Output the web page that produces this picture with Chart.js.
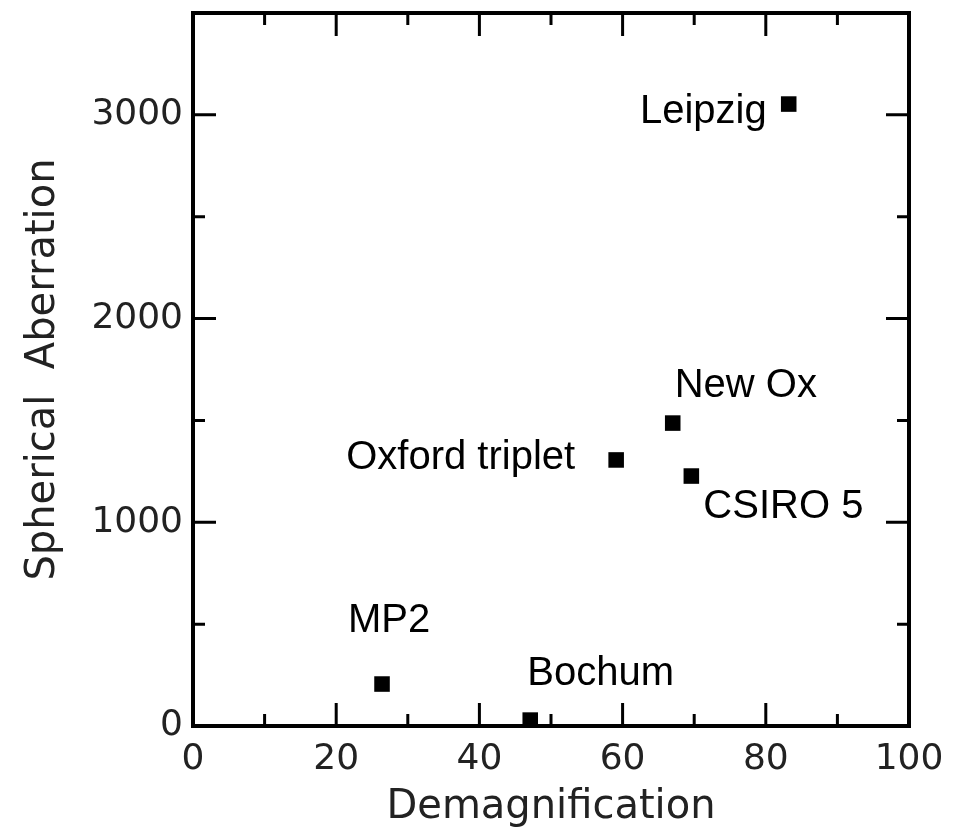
<!DOCTYPE html>
<html>
<head>
<meta charset="utf-8">
<script src="https://cdn.jsdelivr.net/npm/chart.js@4/dist/chart.umd.min.js"></script>
<style>
  html, body { margin: 0; padding: 0; background: #fff; }
  #wrap { width: 959px; height: 840px; }
</style>
</head>
<body>
<div id="wrap"><canvas id="c" width="959" height="840"></canvas></div>
<script>
// ====== data ======
const names = ["Leipzig", "New Ox", "Oxford triplet", "CSIRO 5", "MP2", "Bochum"];
const demag = [83.2, 67.0, 59.1, 69.6, 26.4, 47.1];
const sphAb = [3053, 1487, 1306, 1227, 206, 29];
const xTickLabels = [0, 20, 40, 60, 80, 100];
const yTickLabels = [0, 1000, 2000, 3000];

// label placement next to each point (px from the marker centre)
const labelPlace = {
  "Leipzig":        { dx: -22, dy: 19,  align: "right" },
  "New Ox":         { dx: 2,   dy: -26, align: "left" },
  "Oxford triplet": { dx: -41, dy: 9,   align: "right" },
  "CSIRO 5":        { dx: 12,  dy: 42,  align: "left" },
  "MP2":            { dx: 7,   dy: -52, align: "center" },
  "Bochum":         { dx: -3,  dy: -35, align: "left" }
};

const points = demag.map((x, i) => ({ x, y: sphAb[i] }));
const axisFont = "'DejaVu Sans', sans-serif";
const ink = '#222';

// frame + inward ticks on all four sides
const framePlugin = {
  id: 'frame',
  afterDatasetsDraw(chart) {
    const { ctx, chartArea: a, scales } = chart;
    ctx.save();
    ctx.strokeStyle = '#000';
    ctx.lineCap = 'butt';
    ctx.lineWidth = 3;
    scales.x.ticks.forEach(t => {
      const px = scales.x.getPixelForValue(t.value);
      const len = t.value % 20 === 0 ? 23 : 12;
      ctx.beginPath();
      ctx.moveTo(px, a.bottom); ctx.lineTo(px, a.bottom - len);
      ctx.moveTo(px, a.top); ctx.lineTo(px, a.top + len);
      ctx.stroke();
    });
    scales.y.ticks.forEach(t => {
      const py = scales.y.getPixelForValue(t.value);
      const len = t.value % 1000 === 0 ? 23 : 12;
      ctx.beginPath();
      ctx.moveTo(a.left, py); ctx.lineTo(a.left + len, py);
      ctx.moveTo(a.right, py); ctx.lineTo(a.right - len, py);
      ctx.stroke();
    });
    ctx.lineWidth = 4;
    ctx.lineJoin = 'miter';
    ctx.strokeRect(a.left, a.top, a.right - a.left, a.bottom - a.top);
    ctx.restore();
  }
};

// names beside the markers
const namePlugin = {
  id: 'names',
  afterDatasetsDraw(chart) {
    const { ctx, scales } = chart;
    ctx.save();
    ctx.fillStyle = '#000';
    ctx.font = "40px 'Liberation Sans', Arial, sans-serif";
    ctx.textBaseline = 'alphabetic';
    names.forEach((n, i) => {
      const p = labelPlace[n];
      const px = scales.x.getPixelForValue(demag[i]);
      const py = scales.y.getPixelForValue(sphAb[i]);
      ctx.textAlign = p.align;
      ctx.fillText(n, px + p.dx, py + p.dy);
    });
    ctx.restore();
  }
};

new Chart(document.getElementById('c'), {
  type: 'scatter',
  data: {
    datasets: [{
      data: points,
      pointStyle: 'rect',
      pointRadius: 11,
      pointHoverRadius: 11,
      borderWidth: 0,
      backgroundColor: '#000'
    }]
  },
  options: {
    responsive: false,
    animation: false,
    layout: { padding: { top: 13, right: 50, left: 0, bottom: 0 } },
    plugins: { legend: { display: false }, tooltip: { enabled: false } },
    scales: {
      x: {
        type: 'linear', min: 0, max: 100,
        border: { display: false },
        grid: { display: false, drawTicks: false },
        afterFit: s => { s.height = 114; s.paddingLeft = 0; s.paddingRight = 0; },
        ticks: {
          stepSize: 10, autoSkip: false, maxRotation: 0, padding: 12,
          color: ink, font: { family: axisFont, size: 36 },
          callback: v => xTickLabels.includes(v) ? String(v) : ''
        },
        title: {
          display: true, text: 'Demagnification', color: ink,
          font: { family: axisFont, size: 40 }, padding: { top: 0, bottom: 8 }
        }
      },
      y: {
        type: 'linear', min: 0, max: 3500,
        border: { display: false },
        grid: { display: false, drawTicks: false },
        afterFit: s => { s.width = 193; s.paddingTop = 0; s.paddingBottom = 0; },
        ticks: {
          stepSize: 500, autoSkip: false, padding: 10,
          color: ink, font: { family: axisFont, size: 36 },
          callback: v => yTickLabels.includes(v) ? String(v) : ''
        },
        title: {
          display: true, text: 'Spherical  Aberration', color: ink,
          font: { family: axisFont, size: 40 }, padding: { top: 20, bottom: 0 }
        }
      }
    }
  },
  plugins: [framePlugin, namePlugin]
});
</script>
</body>
</html>
